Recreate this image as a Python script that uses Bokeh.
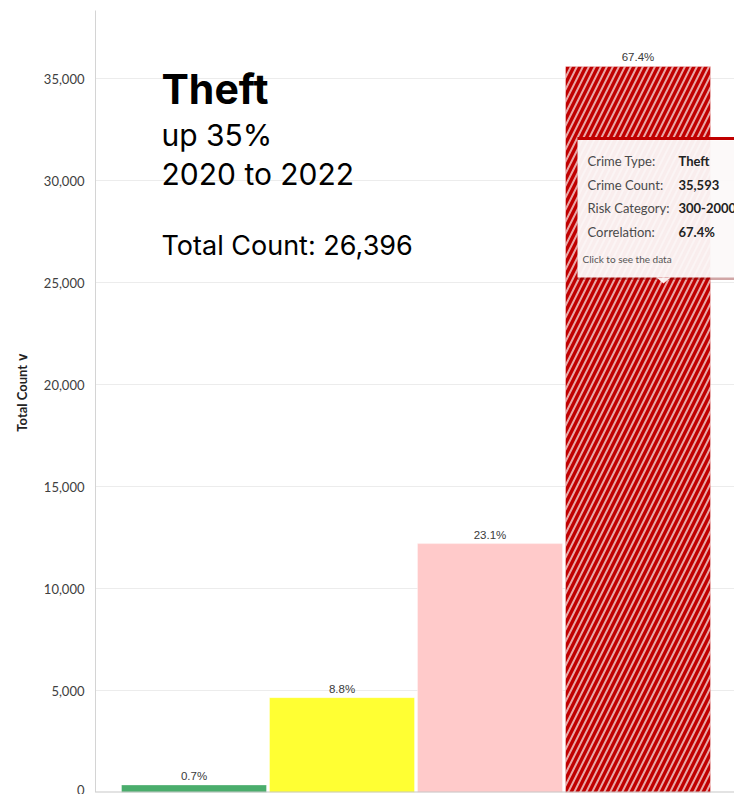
from bokeh.plotting import figure
from bokeh.models import (ColumnDataSource, Label, BoxAnnotation, PolyAnnotation, Span,
                          SingleIntervalTicker, NumeralTickFormatter, Range1d)
from bokeh.core.properties import value
from bokeh.embed import file_html
from bokeh.resources import INLINE

# ---------------- data ----------------
risk_index = [0, 1, 2, 3]
crime_counts = [370, 4650, 12200, 35593]
pct_labels = ["0.7%", "8.8%", "23.1%", "67.4%"]
bar_colors = ["#4aad6c", "#ffff33", "#ffcaca", "#c00000"]
hatches = [" ", " ", " ", "/"]

y_title = "Total Count"
headline = "Theft"
sub1 = "up 35%"
sub2 = "2020 to 2022"
total_text = "Total Count: 26,396"

tip_keys = ["Crime Type:", "Crime Count:", "Risk Category:", "Correlation:"]
tip_vals = ["Theft", "35,593", "300-2000", "67.4%"]
tip_note = "Click to see the data"

# ---------------- geometry (canvas px) ----------------
W, H = 734, 794
FL, FT, FB = 95, 10, 792          # frame left / top / bottom
SLOT = 148.0                       # px per category
X0 = -(193.5 - FL) / SLOT
X1 = X0 + (W - FL) / SLOT
PXY = 714.0 / 35000.0              # px per count unit
Y1 = (FB - FT) / PXY


def dx(px):
    return X0 + (px - FL) / SLOT


def dy(py):
    return (FB - py) / PXY


def text_label(px, baseline, txt, size, font, bold=False, color="#000000"):
    # Bokeh places the alphabetic baseline ~0.4em lower than requested; compensate
    return Label(x=dx(px), y=dy(baseline - 0.4 * size), text=txt, text_font=font,
                 text_font_size=f"{size}px", text_font_style="bold" if bold else "normal",
                 text_color=color, text_baseline="alphabetic")


p = figure(width=W, height=H, output_backend="svg", toolbar_location=None,
           x_axis_location=None, x_range=Range1d(X0, X1), y_range=Range1d(0, Y1),
           min_border_left=FL, min_border_top=FT, min_border_bottom=H - FB,
           min_border_right=0)
p.outline_line_color = None
p.background_fill_color = "white"
p.border_fill_color = "white"
p.xgrid.visible = False
p.ygrid.grid_line_color = "#ececec"
p.ygrid.grid_line_width = 1

ax = p.yaxis[0]
ax.ticker = SingleIntervalTicker(interval=5000)
ax.formatter = NumeralTickFormatter(format="0,0")
ax.major_tick_line_color = None
ax.minor_tick_line_color = None
ax.major_label_standoff = 5
ax.major_label_text_font = "Lato"
ax.major_label_text_font_size = "13px"
ax.major_label_text_color = "#404040"
ax.axis_line_color = "#d4d4d4"
ax.axis_line_width = 1
ax.axis_label = "\u2003\u2003" + y_title + " \u2228"
ax.axis_label_text_font = "Lato"
ax.axis_label_text_font_size = "13px"
ax.axis_label_text_font_style = "bold"
ax.axis_label_text_color = "#222222"
ax.axis_label_standoff = 11

src = ColumnDataSource(dict(x=risk_index, top=crime_counts, color=bar_colors,
                            hatch=hatches, label=pct_labels))
p.vbar(x="x", top="top", width=145 / SLOT, source=src, fill_color="color",
       line_color="white", line_alpha=0.35, line_width=1,
       hatch_pattern="hatch", hatch_color="white", hatch_alpha=0.65,
       hatch_scale=12, hatch_weight=2)
p.text(x="x", y="top", text="label", source=src, text_align="center",
       text_baseline="alphabetic", y_offset=-9, text_font=value("Liberation Sans"),
       text_font_size="11.5px", text_color="#3a3a3a")

p.add_layout(Span(location=0, dimension="width", line_color="#c8c8c8", line_width=2))

# big headline text
p.add_layout(text_label(161, 105, headline, 41, "Inter", bold=True))
p.add_layout(text_label(161, 146, sub1, 30, "Inter"))
p.add_layout(text_label(161, 185, sub2, 30, "Inter"))
p.add_layout(text_label(161, 256, total_text, 27, "Inter"))

# tooltip
p.add_layout(BoxAnnotation(left=dx(577), right=dx(760), top=dy(140), bottom=dy(279.5),
                           fill_color="#7a0000", fill_alpha=0.35, line_color=None))
p.add_layout(BoxAnnotation(left=dx(577), right=dx(760), top=dy(139), bottom=dy(277),
                           fill_color="#ffffff", fill_alpha=0.93, line_color=None))
p.add_layout(BoxAnnotation(left=dx(577), right=dx(760), top=dy(136.5), bottom=dy(139.5),
                           fill_color="#c00000", fill_alpha=1.0, line_color=None))
p.add_layout(PolyAnnotation(xs=[dx(656), dx(670), dx(663)], ys=[dy(277), dy(277), dy(283)],
                            fill_color="#ffffff", fill_alpha=0.93, line_color=None))

row_y = [166, 189.5, 213, 236.5]
for k, v, yy in zip(tip_keys, tip_vals, row_y):
    p.add_layout(text_label(587, yy, k, 13, "Lato", color="#4a4a4a"))
    p.add_layout(text_label(678, yy, v, 13, "Lato", bold=True, color="#222222"))
p.add_layout(text_label(582, 262, tip_note, 10, "Lato", color="#555555"))

open("out.html", "w").write(file_html(p, INLINE))
